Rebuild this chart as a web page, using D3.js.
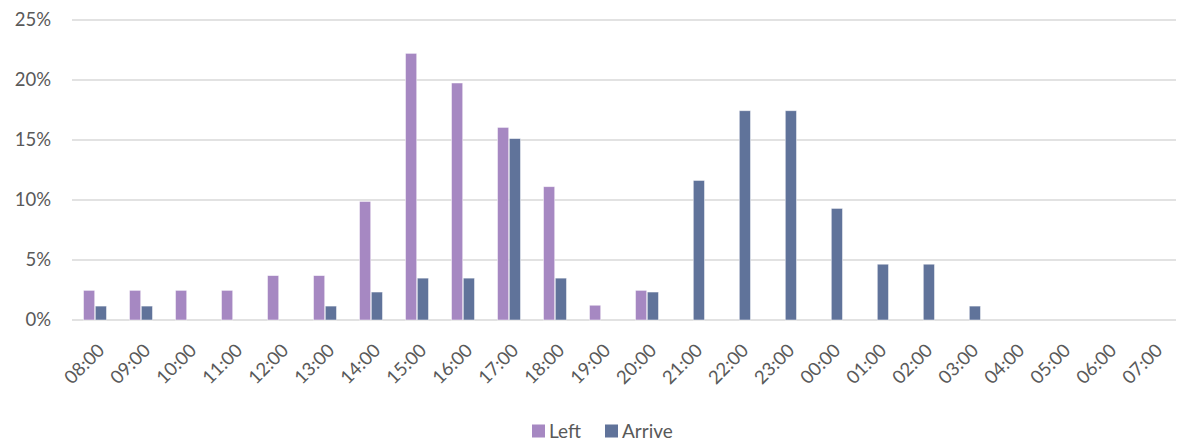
<!DOCTYPE html>
<html>
<head>
<meta charset="utf-8">
<script src="https://cdn.jsdelivr.net/npm/d3@7/dist/d3.min.js"></script>
<style>
  html, body { margin: 0; padding: 0; background: #fff; }
  svg { display: block; font-family: Lato, "Open Sans", sans-serif; }
</style>
</head>
<body>
<svg id="chart" width="1182" height="444"></svg>
<script>
// Hourly share of departures ("Left") and arrivals ("Arrive"), in percent
const hours = ["08:00","09:00","10:00","11:00","12:00","13:00","14:00","15:00","16:00","17:00","18:00","19:00",
               "20:00","21:00","22:00","23:00","00:00","01:00","02:00","03:00","04:00","05:00","06:00","07:00"];
const seriesNames = ["Left", "Arrive"];
const leftValues   = [2.47, 2.47, 2.47, 2.47, 3.70, 3.70, 9.88, 22.22, 19.75, 16.05, 11.11, 1.23,
                      2.47, 0, 0, 0, 0, 0, 0, 0, 0, 0, 0, 0];
const arriveValues = [1.16, 1.16, 0, 0, 0, 1.16, 2.33, 3.49, 3.49, 15.12, 3.49, 0,
                      2.33, 11.63, 17.44, 17.44, 9.30, 4.65, 4.65, 1.16, 0, 0, 0, 0];
const yTicks = [0, 5, 10, 15, 20, 25];
const colors = { Left: "#a688c2", Arrive: "#60739a" };

const svg = d3.select("#chart");
const margin = { left: 72, right: 6, top: 20, bottom: 124 };
const W = 1182, H = 444;
const textColor = "#595959";

const x = d3.scaleBand().domain(hours).range([margin.left, W - margin.right]).padding(0);
const bw = x.bandwidth();
const xs = d3.scaleBand().domain(seriesNames).range([bw * 0.25, bw * 0.75]).paddingInner(0.05);
const y = d3.scaleLinear().domain([0, 25]).range([H - margin.bottom, margin.top]);

// gridlines
svg.append("g")
  .selectAll("line").data(yTicks).join("line")
  .attr("x1", margin.left).attr("x2", W - margin.right)
  .attr("y1", d => y(d)).attr("y2", d => y(d))
  .attr("stroke", "#d9d9d9").attr("stroke-width", 1.5);

// y axis labels
const yAxis = d3.axisLeft(y).tickValues(yTicks).tickFormat(d => d + "%").tickSize(0).tickPadding(21);
const gy = svg.append("g").attr("transform", `translate(${margin.left},0)`).call(yAxis);
gy.select(".domain").remove();
gy.selectAll("text").attr("fill", textColor).style("font-size", "18.5px")
  .style("font-family", "Lato, 'Open Sans', sans-serif");

// bars
const rows = hours.map((h, i) => ({ hour: h, Left: leftValues[i], Arrive: arriveValues[i] }));
const groups = svg.append("g").selectAll("g").data(rows).join("g")
  .attr("transform", d => `translate(${x(d.hour)},0)`);
groups.selectAll("rect")
  .data(d => seriesNames.map(s => ({ s, v: d[s] })).filter(e => e.v > 0))
  .join("rect")
  .attr("x", e => xs(e.s))
  .attr("width", xs.bandwidth())
  .attr("y", e => y(e.v))
  .attr("height", e => y(0) - y(e.v))
  .attr("fill", e => colors[e.s])
  .attr("stroke", "#ffffff").attr("stroke-opacity", 0.6).attr("stroke-width", 0.8);

// x axis labels, rotated
const xAxis = d3.axisBottom(x).tickSize(0).tickPadding(0);
const gx = svg.append("g").attr("transform", `translate(0,${y(0)})`).call(xAxis);
gx.select(".domain").remove();
gx.selectAll("text")
  .attr("fill", textColor).style("font-size", "18.5px")
  .style("font-family", "Lato, 'Open Sans', sans-serif")
  .attr("text-anchor", "end")
  .attr("dy", "0.35em")
  .attr("transform", "translate(6,27) rotate(-45)");

// legend
const legend = svg.append("g").attr("transform", "translate(532,431)");
const items = [{ name: "Left", x: 0 }, { name: "Arrive", x: 73 }];
const li = legend.selectAll("g").data(items).join("g").attr("transform", d => `translate(${d.x},0)`);
li.append("rect").attr("x", 0).attr("y", -6.5).attr("width", 13).attr("height", 13)
  .attr("fill", d => colors[d.name]);
li.append("text").attr("x", 17).attr("y", 0).attr("dy", "0.36em")
  .attr("fill", textColor).style("font-size", "19px").text(d => d.name);
</script>
</body>
</html>
